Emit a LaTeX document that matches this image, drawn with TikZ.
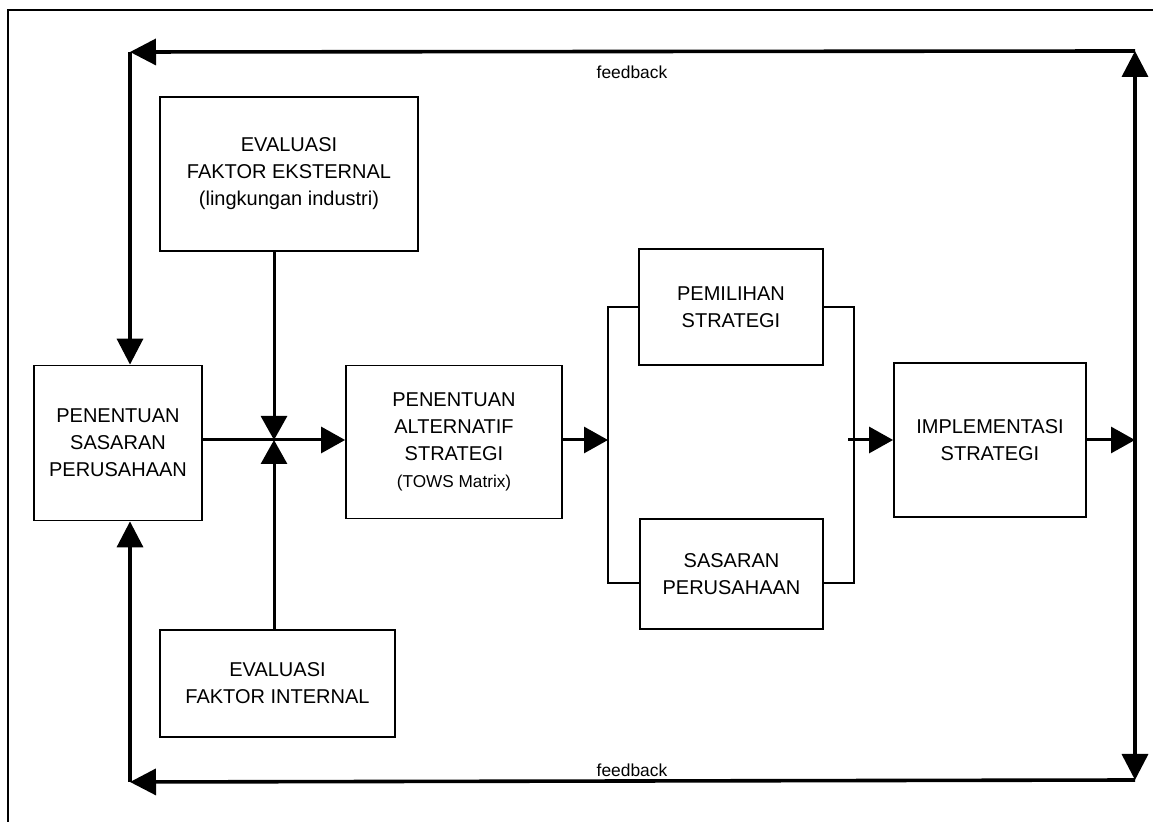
\documentclass[tikz,border=0pt]{standalone}
\usepackage{fontspec}
\setmainfont{Liberation Sans}
\usetikzlibrary{arrows.meta}

\begin{document}
\begin{tikzpicture}[x=0.5pt,y=-0.5pt,
    box/.style={draw, line width=0.9pt, align=center, inner sep=0pt, font=\fontsize{10}{13.5}\selectfont},
    flow/.style={line width=1.5pt, -{Triangle[length=12pt,width=13pt]}},
    fb/.style={line width=1.8pt},
    bracket/.style={line width=0.7pt},
    lbl/.style={font=\fontsize{8.7}{10}\selectfont, inner sep=0pt}]
    \useasboundingbox (0,0) rectangle (1153,822);
    \draw[line width=0.9pt] (8,822) -- (8,10) -- (1153,10);

    \node[box, minimum width=129pt, minimum height=77pt] (ekst) at (289,174) {EVALUASI\\FAKTOR EKSTERNAL\\ (lingkungan industri)};
    \node[box, minimum width=84pt, minimum height=77.5pt] (sasaran) at (118,443) {PENENTUAN\\SASARAN\\PERUSAHAAN};
    \node[box, minimum width=108pt, minimum height=76.5pt] (alt) at (454,442) {PENENTUAN\\ALTERNATIF\\STRATEGI\\{\fontsize{8.6}{10}\selectfont (TOWS Matrix)}};
    \node[box, minimum width=117.5pt, minimum height=53.5pt] (intern) at (277.5,683.5) {EVALUASI\\FAKTOR INTERNAL};
    \node[box, minimum width=92pt, minimum height=58pt] (pilih) at (731,307) {PEMILIHAN\\STRATEGI};
    \node[box, minimum width=91.5pt, minimum height=55pt] (sasaran2) at (731.5,574) {SASARAN\\PERUSAHAAN};
    \node[box, minimum width=96pt, minimum height=77pt] (impl) at (990,440) {IMPLEMENTASI\\STRATEGI};

    \node[lbl] (fbtop) at (632,72) {feedback};
    \node[lbl] (fbbot) at (632,770) {feedback};

    \coordinate (mid) at (274,440);
    \coordinate (brL) at (608,440);
    \coordinate (brR) at (854,440);
    \coordinate (out) at (1135,440);
    \coordinate (tr) at (1135,51);
    \coordinate (br) at (1135,780);
    \coordinate (tl) at (130,52);
    \coordinate (bl) at (130,782);

    \draw[line width=1.5pt] (sasaran.east |- mid) -- (mid);
    \draw[flow] (mid) -- (alt.west |- mid);
    \draw[flow] (ekst.south -| mid) -- (mid);
    \draw[flow] (intern.north -| mid) -- (mid);
    \draw[flow] (alt.east |- brL) -- (brL);
    \draw[bracket] (pilih.west) -| (brL) |- ([yshift=-4.5pt]sasaran2.west);
    \draw[bracket] (pilih.east) -| (brR) |- ([yshift=-4.5pt]sasaran2.east);
    \draw[flow] ([xshift=-3pt]brR) -- (impl.west |- brR);
    \draw[flow] (impl.east) -- (out);

    \draw[fb, -{Triangle[length=13pt,width=13pt]}] (out) -- (tr);
    \draw[fb, -{Triangle[length=13pt,width=13pt]}] (out) -- (br);
    \draw[fb, -{Triangle[length=13pt,width=13pt]}] (tr) -- (tl);
    \draw[fb, -{Triangle[length=13pt,width=13pt]}] (br) -- (bl);
    \draw[fb, -{Triangle[length=13pt,width=13pt]}] (tl) -- (tl |- sasaran.north);
    \draw[fb, -{Triangle[length=13pt,width=13pt]}] (bl) -- (bl |- sasaran.south);
\end{tikzpicture}
\end{document}
